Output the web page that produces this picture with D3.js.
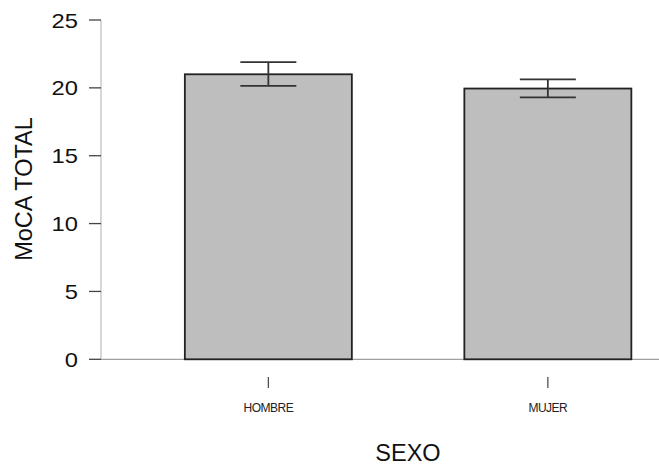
<!DOCTYPE html>
<html>
<head>
<meta charset="utf-8">
<script src="https://cdn.jsdelivr.net/npm/d3@7"></script>
<style>
  html, body { margin: 0; padding: 0; background: #fff; }
  svg { display: block; font-family: "Liberation Sans", Arial, sans-serif; }
</style>
</head>
<body>
<svg id="chart" width="659" height="466"></svg>
<script>
const categories = ["HOMBRE", "MUJER"];
const means = [21.0, 19.95];
const upper = [21.9, 20.63];
const lower = [20.15, 19.3];
const yTicks = [0, 5, 10, 15, 20, 25];
const xTitle = "SEXO";
const yTitle = "MoCA TOTAL";

const svg = d3.select("#chart");
const W = 659, H = 466;
const axisX = 101;

const y = d3.scaleLinear().domain([0, 25]).range([359.3, 20]);
const x = d3.scaleBand().domain(categories)
  .range([101, 715.2]).paddingInner(0.4025).paddingOuter(0.3);

// y axis line
svg.append("line").attr("x1", axisX).attr("x2", axisX)
  .attr("y1", y(25)).attr("y2", y(0))
  .attr("stroke", "#b0b0b0").attr("stroke-width", 1);

// y ticks
const yt = svg.append("g");
yt.selectAll("line").data(yTicks).join("line")
  .attr("x1", 89).attr("x2", axisX)
  .attr("y1", d => y(d)).attr("y2", d => y(d))
  .attr("stroke", "#444").attr("stroke-width", 1.3);
yt.selectAll("text").data(yTicks).join("text")
  .attr("transform", d => `translate(78,${y(d)}) scale(1.13,1)`)
  .attr("dy", "0.36em")
  .attr("text-anchor", "end")
  .attr("font-size", 21)
  .attr("fill", "#111")
  .text(d => d);

// baseline
svg.append("line").attr("x1", axisX).attr("x2", W)
  .attr("y1", y(0)).attr("y2", y(0))
  .attr("stroke", "#a0a0a0").attr("stroke-width", 1.2);

// bars
svg.append("g").selectAll("rect").data(categories).join("rect")
  .attr("x", d => x(d))
  .attr("y", (d, i) => y(means[i]))
  .attr("width", x.bandwidth())
  .attr("height", (d, i) => y(0) - y(means[i]))
  .attr("fill", "#bebebe")
  .attr("stroke", "#222")
  .attr("stroke-width", 1.8);

// error bars
const capHalf = 28;
const eb = svg.append("g").attr("stroke", "#333").attr("stroke-width", 1.8);
categories.forEach((c, i) => {
  const cx = x(c) + x.bandwidth() / 2;
  eb.append("line").attr("x1", cx).attr("x2", cx)
    .attr("y1", y(upper[i])).attr("y2", y(lower[i]));
  eb.append("line").attr("x1", cx - capHalf).attr("x2", cx + capHalf)
    .attr("y1", y(upper[i])).attr("y2", y(upper[i]));
  eb.append("line").attr("x1", cx - capHalf).attr("x2", cx + capHalf)
    .attr("y1", y(lower[i])).attr("y2", y(lower[i]));
});

// x ticks & labels
const xt = svg.append("g");
xt.selectAll("line").data(categories).join("line")
  .attr("x1", d => x(d) + x.bandwidth() / 2)
  .attr("x2", d => x(d) + x.bandwidth() / 2)
  .attr("y1", 377).attr("y2", 388)
  .attr("stroke", "#444").attr("stroke-width", 1.2);
xt.selectAll("text").data(categories).join("text")
  .attr("x", d => x(d) + x.bandwidth() / 2)
  .attr("y", 412)
  .attr("text-anchor", "middle")
  .attr("font-size", 12)
  .attr("letter-spacing", -0.5)
  .attr("fill", "#222")
  .text(d => d);

// axis titles
svg.append("text")
  .attr("x", 408).attr("y", 461)
  .attr("text-anchor", "middle")
  .attr("font-size", 23.5)
  .attr("fill", "#111")
  .text(xTitle);

svg.append("text")
  .attr("transform", "translate(32,189) rotate(-90)")
  .attr("text-anchor", "middle")
  .attr("font-size", 23.5)
  .attr("fill", "#111")
  .text(yTitle);
</script>
</body>
</html>
